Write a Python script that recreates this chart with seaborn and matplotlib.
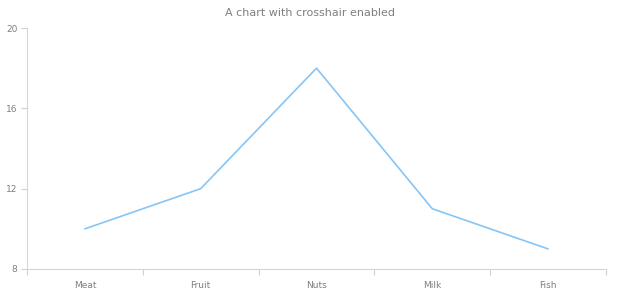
import matplotlib
matplotlib.use("Agg")
import matplotlib.pyplot as plt
import seaborn as sns
import pandas as pd

categories = ["Meat", "Fruit", "Nuts", "Milk", "Fish"]
values = [10, 12, 18, 11, 9]
y_ticks = [8, 12, 16, 20]
title = "A chart with crosshair enabled"

sns.set_theme(style="white")
plt.rcParams['font.family'] = ['DejaVu Sans']

df = pd.DataFrame({"category": categories, "value": values})

fig = plt.figure(figsize=(6.2, 3.0), dpi=100)
ax = fig.add_axes([27/620, 1-269/300, (606-27)/620, (269-28)/300])
sns.lineplot(data=df, x="category", y="value", ax=ax, color="#86c5f5", linewidth=1.2)

ax.set_xlim(-0.5, len(categories) - 0.5)
ax.set_ylim(min(y_ticks), max(y_ticks))
ax.set_yticks(y_ticks)
ax.set_xticks(range(len(categories)))
ax.set_xticklabels(categories)
ax.set_xticks([i - 0.5 for i in range(len(categories) + 1)], minor=True)
ax.tick_params(axis="x", which="major", length=0, pad=9, labelsize=6.5, labelcolor="#7f7f7f")
ax.tick_params(axis="x", which="minor", length=4, width=0.8, color="#d0d0d0", bottom=True)
ax.tick_params(axis="y", which="major", length=4, width=0.8, color="#d0d0d0", left=True, pad=3, labelsize=6.5, labelcolor="#7f7f7f")
ax.set_xlabel("")
ax.set_ylabel("")
for s in ["top", "right"]:
    ax.spines[s].set_visible(False)
for s in ["left", "bottom"]:
    ax.spines[s].set_color("#d6d6d6")
    ax.spines[s].set_linewidth(0.8)
ax.grid(False)
fig.text(0.5, 1-13/300, title, ha="center", va="center", fontsize=8, color="#7f7f7f")

fig.savefig("out.png", dpi=100)
